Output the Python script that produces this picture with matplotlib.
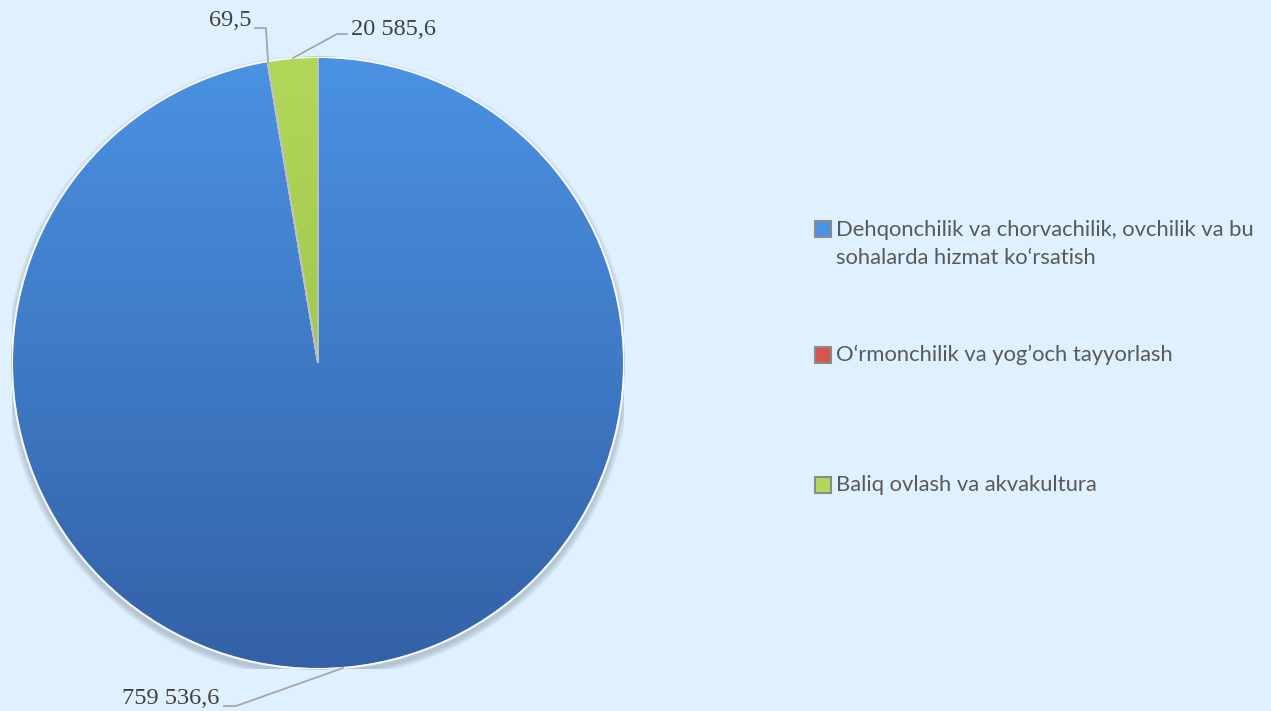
import numpy as np
import matplotlib
matplotlib.use("Agg")
import matplotlib.pyplot as plt
from matplotlib.patches import Rectangle, Wedge, Circle
from matplotlib.colors import LinearSegmentedColormap

categories = ["Dehqonchilik va chorvachilik, ovchilik va bu\nsohalarda hizmat ko\u2018rsatish",
              "O\u2018rmonchilik va yog\u2019och tayyorlash",
              "Baliq ovlash va akvakultura"]
values = [759536.6, 69.5, 20585.6]
labels = ["759 536,6", "69,5", "20 585,6"]
colors_top = ["#4b92e3", "#d9534f", "#b2d85a"]
colors_bot = ["#3361a6", "#a83232", "#8fb83a"]
bg = "#dff1fe"

fig = plt.figure(figsize=(12.71, 7.11), dpi=100, facecolor=bg)
W, H = 1271, 711
cx, cy, r = 318, 363, 306
ax = fig.add_axes([(cx - r) / W, (H - cy - r) / H, 2 * r / W, 2 * r / H])
ax.set_facecolor(bg)
ax.axis("off")

# soft shadow under the pie
for k in range(8):
    ax.add_patch(Circle((0, -4.0 / r), 1.0 + (8 - k) * 0.8 / r, facecolor="#6a7a8a",
                        edgecolor="none", alpha=0.05, zorder=0.5))

wedges, _ = ax.pie(values, startangle=90, counterclock=False, radius=1.0,
                   colors=colors_top,
                   wedgeprops=dict(edgecolor="#c8c8c8", linewidth=1.2, zorder=1))

for w, ct, cb in zip(wedges, colors_top, colors_bot):
    cmap = LinearSegmentedColormap.from_list("g", [cb, ct])
    grad = np.linspace(0, 1, 256).reshape(-1, 1)
    im = ax.imshow(grad, cmap=cmap, extent=[-1, 1, -1, 1], origin="lower",
                   aspect="auto", zorder=2)
    im.set_clip_path(w)
for w in wedges:
    ax.add_patch(Wedge(w.center, w.r, w.theta1, w.theta2, facecolor="none",
                       edgecolor="#c0c0c0", linewidth=1.2, zorder=5))
ax.add_patch(Circle((0, 0), 1.0, facecolor="none", edgecolor="#f4f8fb",
                    linewidth=1.5, zorder=6))
ax.set_xlim(-1.0, 1.0)
ax.set_ylim(-1.0, 1.0)
ax.set_aspect("equal")

def px(x, y):
    return ((x - cx) / r, (cy - y) / r)

lc = "#a6a6a6"
serif = "Liberation Serif"
tc = "#404040"
# 759 536,6
ax.plot(*zip(px(343, 668), px(236, 706), px(224, 706)), color=lc, lw=1.3, clip_on=False, zorder=7)
ax.text(*px(219, 699), labels[0], ha="right", va="center", fontsize=17.5,
        family=serif, color=tc, clip_on=False)
# 69,5
ax.plot(*zip(px(268, 62), px(266, 28), px(255, 28)), color=lc, lw=1.3, clip_on=False, zorder=7)
ax.text(*px(251, 21), labels[1], ha="right", va="center", fontsize=17.5,
        family=serif, color=tc, clip_on=False)
# 20 585,6
ax.plot(*zip(px(293, 58), px(337, 34), px(347, 34)), color=lc, lw=1.3, clip_on=False, zorder=7)
ax.text(*px(351, 29), labels[2], ha="left", va="center", fontsize=17.5,
        family=serif, color=tc, clip_on=False)

# legend
leg_y = [244, 355, 485]
msz = 16
for i, (lab, ct, cb) in enumerate(zip(categories, colors_top, colors_bot)):
    y = leg_y[i]
    my = y - 15 if i == 0 else y
    fig.patches.append(Rectangle((815 / W, (H - my - msz / 2) / H), msz / W, msz / H,
                                 transform=fig.transFigure, facecolor=ct,
                                 edgecolor="#8a8a8a", linewidth=1.5))
    fig.text(836 / W, (H - y) / H, lab, ha="left", va="center",
             fontsize=15.8, family="Lato", color="#595959", linespacing=1.45)

fig.savefig("out.png", dpi=100, facecolor=bg)
